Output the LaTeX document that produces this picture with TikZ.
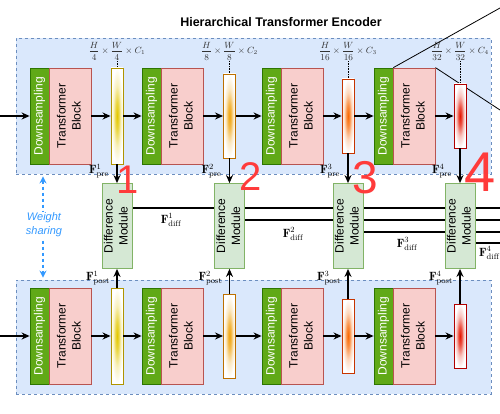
\documentclass[tikz,border=0pt]{standalone}
\usepackage{fontspec}
\setsansfont{Liberation Sans}
\usepackage{graphicx}
\usetikzlibrary{arrows.meta,calc}
\definecolor{boxfill}{HTML}{DAE8FC}
\definecolor{boxline}{HTML}{6C8EBF}
\definecolor{dsfill}{HTML}{60A917}
\definecolor{dsline}{HTML}{2D7600}
\definecolor{tffill}{HTML}{F8CECC}
\definecolor{tfline}{HTML}{B85450}
\definecolor{dmfill}{HTML}{D5E8D4}
\definecolor{dmline}{HTML}{82B366}
\definecolor{c1}{HTML}{E3C800}
\definecolor{l1}{HTML}{B09500}
\definecolor{c2}{HTML}{F0A30A}
\definecolor{l2}{HTML}{BD7000}
\definecolor{c3}{HTML}{FA6800}
\definecolor{l3}{HTML}{C73500}
\definecolor{c4}{HTML}{E51400}
\definecolor{l4}{HTML}{B20000}
\definecolor{wsblue}{HTML}{3399FF}
\definecolor{hand}{HTML}{FF3B3B}
\colorlet{bc}{c1}
\pgfdeclareradialshading[bc]{barshade}{\pgfpoint{0bp}{0bp}}{%
  color(0bp)=(bc); color(7bp)=(bc!75!white); color(16bp)=(bc!25!white); color(25bp)=(white); color(50bp)=(white)}
\pgfdeclarelayer{background}
\pgfsetlayers{background,main}
\tikzset{
  encbox/.style={draw=boxline, fill=boxfill, dashed, line width=0.8pt, inner sep=0},
  dsbox/.style={draw=dsline, fill=dsfill, line width=0.8pt, minimum width=19pt, minimum height=96pt, inner sep=0,
    text=white, font=\sffamily\fontsize{12}{14}\selectfont},
  tfbox/.style={draw=tfline, fill=tffill, line width=0.8pt, minimum width=42pt, minimum height=96pt, inner sep=0,
    font=\sffamily\fontsize{12}{15}\selectfont},
  dmbox/.style={draw=dmline, fill=dmfill, line width=0.8pt, minimum width=30pt, minimum height=85pt, inner sep=0,
    font=\sffamily\fontsize{12}{15}\selectfont},
  barbox/.style={line width=0.9pt, minimum width=12pt, inner sep=0, shading=barshade},
  arr/.style={-{Stealth[length=8pt,width=7pt]}, line width=1.4pt},
  dline/.style={line width=1.4pt},
  fmath/.style={inner sep=0, font=\fontsize{12}{14}\selectfont},
  dimlab/.style={inner sep=1pt, text=black!80, font=\fontsize{9}{11}\selectfont},
  handnum/.style={inner sep=0, text=hand, font=\sffamily\fontsize{40}{40}\selectfont},
}
\begin{document}
\begin{tikzpicture}[x=1pt,y=-1pt]
\useasboundingbox (0,0) rectangle (500,414);
\begin{pgfonlayer}{background}
\node[encbox, minimum width=475pt, minimum height=136pt] (enctop) at (253.5,106) {};
\node[encbox, minimum width=475pt, minimum height=114pt] (encbot) at (253.5,337) {};
\end{pgfonlayer}
\node[font=\sffamily\bfseries\fontsize{12.5}{14}\selectfont, inner sep=0] (title) at (281,22) {Hierarchical Transformer Encoder};
% blocks
\foreach \i/\xl/\bx/\bh/\k in {1/30/117/96/4, 2/142/229.5/84/8, 3/262/348/74/16, 4/374/460/64/32}{
  \node[dsbox] (ds\i-t) at (\xl+9.5,116) {\rotatebox{90}{Downsampling}};
  \node[tfbox] (tf\i-t) at (\xl+40,116) {\rotatebox{90}{\begin{tabular}{@{}c@{}}Transformer\\Block\end{tabular}}};
  \node[dsbox] (ds\i-b) at (\xl+9.5,336) {\rotatebox{90}{Downsampling}};
  \node[tfbox] (tf\i-b) at (\xl+40,336) {\rotatebox{90}{\begin{tabular}{@{}c@{}}Transformer\\Block\end{tabular}}};
  \node[dimlab] (dim\i) at (\bx,51) {$\displaystyle\frac{H}{\k}\times\frac{W}{\k}\times C_{\i}$};
  \node[dmbox] (dm\i) at (\bx,226) {\rotatebox{90}{\begin{tabular}{@{}c@{}}Difference\\Module\end{tabular}}};
}
% zoom lines
\begin{pgfonlayer}{background}
\coordinate (z1) at (500,8);
\coordinate (z2) at (500,110);
\draw[line width=0.8pt] (ds4-t.north east) -- (z1);
\draw[line width=0.8pt] (tf4-t.north east) -- (z2);
\end{pgfonlayer}
\foreach \i/\bx/\bh in {1/117/96, 2/229.5/84, 3/348/74, 4/460/64}{
  \colorlet{bc}{c\i}
  \node[barbox, draw=l\i, minimum height=\bh pt] (bar\i-t) at (\bx,116) {};
  \node[barbox, draw=l\i, minimum height=\bh pt] (bar\i-b) at (\bx,336) {};
  \draw[densely dotted, line width=0.6pt] (dim\i.south) -- (bar\i-t.north);
  \draw[arr] (tf\i-t.east) -- (bar\i-t.west);
  \draw[arr] (tf\i-b.east) -- (bar\i-b.west);
  \draw[arr] (bar\i-t.south) -- (dm\i.north);
  \draw[arr] (bar\i-b.north) -- (dm\i.south);
  \node[fmath] (pre\i) at (\bx-18,171) {$\mathbf{F}^{\i}_{\mathrm{pre}}$};
  \node[fmath] (post\i) at (\bx-19,278) {$\mathbf{F}^{\i}_{\mathrm{post}}$};
}
% input arrows
\coordinate (in-t) at (0,116);
\coordinate (in-b) at (0,336);
\draw[arr] (in-t) -- (ds1-t.west);
\draw[arr] (in-b) -- (ds1-b.west);
\foreach \i/\j in {1/2, 2/3, 3/4}{
  \draw[arr] (bar\i-t.east) -- (ds\j-t.west);
  \draw[arr] (bar\i-b.east) -- (ds\j-b.west);
}
% difference lines
\begin{pgfonlayer}{background}
\coordinate (e1) at (500,208);
\coordinate (e2) at (500,220);
\coordinate (e3) at (500,232);
\coordinate (e4) at (500,243);
\foreach \i in {1,2,3,4}{
  \draw[dline] (dm\i.east |- e\i) -- (e\i);
}
\end{pgfonlayer}
\node[fmath] (fd1) at (171,220) {$\mathbf{F}^{1}_{\mathrm{diff}}$};
\node[fmath] (fd2) at (293,234) {$\mathbf{F}^{2}_{\mathrm{diff}}$};
\node[fmath] (fd3) at (407,244) {$\mathbf{F}^{3}_{\mathrm{diff}}$};
\node[fmath, anchor=west] (fd4) at (479,253) {$\mathbf{F}^{4}_{\mathrm{diff}}$};
% weight sharing
\coordinate (wsx) at (43,0);
\draw[wsblue, dashed, line width=1.3pt, {Stealth[length=7pt,width=7pt]}-{Stealth[length=7pt,width=7pt]}, shorten <=2pt, shorten >=2pt]
  (enctop.south -| wsx) -- (encbot.north -| wsx);
\node[fill=white, inner sep=1pt, text=wsblue, align=center, font=\sffamily\itshape\fontsize{11}{14}\selectfont] (ws) at (44,225) {Weight\\sharing};
% handwritten numbers
\node[handnum] (n1) at (128,180) {1};
\node[handnum] (n2) at (251,177) {2};
\node[handnum, font=\sffamily\fontsize{46}{46}\selectfont] (n3) at (365,178) {3};
\node[handnum, font=\sffamily\fontsize{56}{56}\selectfont] (n4) at (480,172) {4};
\end{tikzpicture}
\end{document}
